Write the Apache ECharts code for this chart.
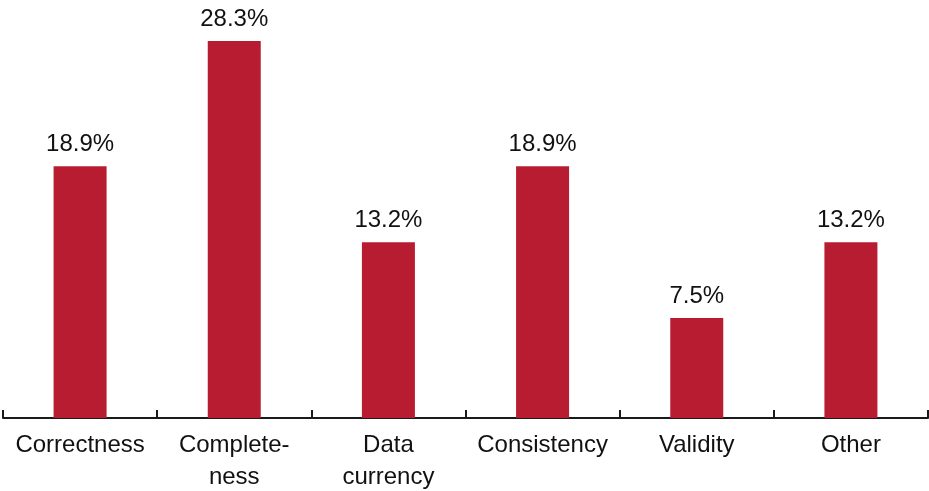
<!DOCTYPE html>
<html><head><meta charset="utf-8">
<script src="https://cdn.jsdelivr.net/npm/echarts@6/dist/echarts.min.js"></script>
<style>html,body{margin:0;padding:0;background:#fff}#c{width:929px;height:491px}</style>
</head><body><div id="c"></div>
<script>
const categories = ['Correctness', 'Complete-\nness', 'Data\ncurrency', 'Consistency', 'Validity', 'Other'];
const values = [18.9, 28.3, 13.2, 18.9, 7.5, 13.2];
const chart = echarts.init(document.getElementById('c'));
const font = '"Liberation Sans", Arial, Helvetica, sans-serif';
chart.setOption({
  animation: false,
  grid: { left: 3, right: 1, top: 18.4, bottom: 73, containLabel: false, outerBoundsMode: 'none' },
  xAxis: {
    type: 'category', data: categories,
    axisLine: { lineStyle: { color: '#1a1a1a', width: 2 } },
    axisTick: { show: true, inside: true, length: 8, lineStyle: { color: '#1a1a1a', width: 2 } },
    axisLabel: { color: '#111', fontSize: 24, fontFamily: font, margin: 11, lineHeight: 32, interval: 0 }
  },
  yAxis: { type: 'value', min: 0, max: 30, show: false, splitLine: { show: false } },
  series: [{
    type: 'bar', data: values, barWidth: 53,
    itemStyle: { color: '#B81C30' },
    label: { show: true, position: 'top', distance: 10, formatter: p => p.value.toFixed(1) + '%', color: '#111', fontSize: 24, fontFamily: font }
  }]
});
</script></body></html>
